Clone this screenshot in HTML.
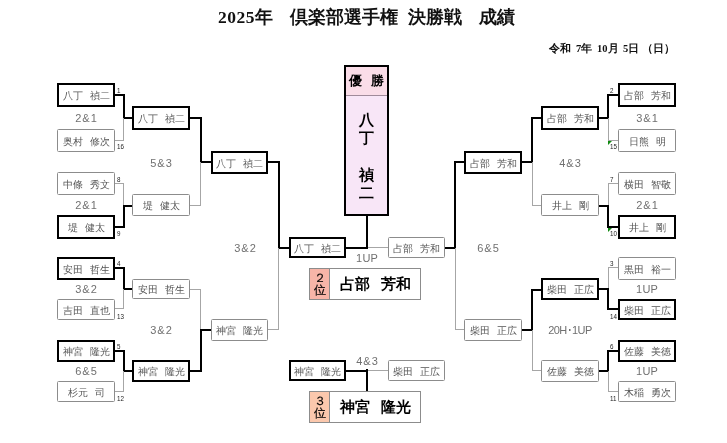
<!DOCTYPE html>
<html><head><meta charset="utf-8"><style>
html,body{margin:0;padding:0;background:#fff;width:727px;height:443px;overflow:hidden}
body{position:relative;font-family:"Liberation Sans", sans-serif}
.wrap{position:absolute;left:0;top:0;width:727px;height:443px;filter:blur(0.4px)}
.b{position:absolute;background:#fff;text-align:center;color:#555;white-space:nowrap;overflow:hidden}
.l{position:absolute}
.sp{display:inline-block;width:7px}
.t{position:absolute;text-align:center;white-space:nowrap}
.n{position:absolute;line-height:8px;color:#222;white-space:nowrap;transform:scaleX(0.78);transform-origin:0 0}
.title span{position:absolute;top:0}
.title{position:absolute;left:0;top:5.5px;width:727px;height:22px;font-family:"Liberation Serif", serif;font-weight:bold;font-size:17.5px;line-height:22px;color:#111;white-space:nowrap}
.date span{position:absolute;top:0}
.date{position:absolute;left:0;top:43px;font-family:"Liberation Serif", serif;font-weight:bold;font-size:10.5px;line-height:12px;color:#111;white-space:nowrap}
.win{position:absolute;left:344px;top:65px;width:41px;height:147px;border:2px solid #000;background:#f8e6f7}
.winh{position:absolute;left:0;top:0;width:41px;height:28px;background:#fadde8;border-bottom:1px solid #a08a9a;text-align:center;font-weight:bold;font-size:13px;line-height:28px;color:#000}
.winb{position:absolute;left:0;top:44px;width:41px;text-align:center;font-size:15px;line-height:18.2px;color:#000;font-weight:bold}
.pl{position:absolute;left:309px;width:110px;height:30px;border:1px solid #8c8c8c;background:#fff}
.pll{position:absolute;left:0;top:0;width:20px;height:30px;border-right:1px solid #8c8c8c;font-size:11.5px;line-height:12px;text-align:center;padding-top:3px;box-sizing:border-box;color:#000;font-weight:normal;-webkit-text-stroke:0.2px #000}
.pln{position:absolute;left:20px;top:0;width:90px;height:30px;line-height:31px;text-align:center;font-weight:bold;font-size:14.5px;color:#000}
</style></head><body><div class="wrap">
<div class="title"><span style="left:218px;letter-spacing:0.5px">2025年</span><span style="left:290px">倶楽部選手権</span><span style="left:408px">決勝戦</span><span style="left:479px">成績</span></div>
<div class="date"><span style="left:549px">令和</span><span style="left:576px">7年</span><span style="left:597px">10月</span><span style="left:623px">5日</span><span style="left:642px">（日）</span></div>
<div class="l" style="left:115px;top:94px;width:10px;height:2px;background:#000"></div>
<div class="l" style="left:115px;top:140px;width:9px;height:1px;background:#a6a6a6"></div>
<div class="l" style="left:123px;top:94px;width:2px;height:25px;background:#000"></div>
<div class="l" style="left:123px;top:118px;width:1px;height:23px;background:#a6a6a6"></div>
<div class="l" style="left:124px;top:117px;width:8px;height:2px;background:#000"></div>
<div class="l" style="left:115px;top:183px;width:9px;height:1px;background:#a6a6a6"></div>
<div class="l" style="left:115px;top:226px;width:10px;height:2px;background:#000"></div>
<div class="l" style="left:123px;top:184px;width:1px;height:22px;background:#a6a6a6"></div>
<div class="l" style="left:123px;top:205px;width:2px;height:23px;background:#000"></div>
<div class="l" style="left:124px;top:205px;width:8px;height:2px;background:#000"></div>
<div class="l" style="left:115px;top:267px;width:10px;height:2px;background:#000"></div>
<div class="l" style="left:115px;top:308px;width:9px;height:1px;background:#a6a6a6"></div>
<div class="l" style="left:123px;top:267px;width:2px;height:23px;background:#000"></div>
<div class="l" style="left:123px;top:289px;width:1px;height:20px;background:#a6a6a6"></div>
<div class="l" style="left:124px;top:288px;width:8px;height:2px;background:#000"></div>
<div class="l" style="left:115px;top:350px;width:10px;height:2px;background:#000"></div>
<div class="l" style="left:115px;top:391px;width:9px;height:1px;background:#a6a6a6"></div>
<div class="l" style="left:123px;top:350px;width:2px;height:22px;background:#000"></div>
<div class="l" style="left:123px;top:371px;width:1px;height:21px;background:#a6a6a6"></div>
<div class="l" style="left:124px;top:370px;width:8px;height:2px;background:#000"></div>
<div class="l" style="left:190px;top:117px;width:12px;height:2px;background:#000"></div>
<div class="l" style="left:190px;top:205px;width:11px;height:1px;background:#a6a6a6"></div>
<div class="l" style="left:200px;top:117px;width:2px;height:46px;background:#000"></div>
<div class="l" style="left:200px;top:162px;width:1px;height:44px;background:#a6a6a6"></div>
<div class="l" style="left:201px;top:161px;width:10px;height:2px;background:#000"></div>
<div class="l" style="left:190px;top:289px;width:11px;height:1px;background:#a6a6a6"></div>
<div class="l" style="left:190px;top:370px;width:12px;height:2px;background:#000"></div>
<div class="l" style="left:200px;top:290px;width:1px;height:40px;background:#a6a6a6"></div>
<div class="l" style="left:200px;top:329px;width:2px;height:43px;background:#000"></div>
<div class="l" style="left:201px;top:329px;width:10px;height:2px;background:#000"></div>
<div class="l" style="left:268px;top:161px;width:12px;height:2px;background:#000"></div>
<div class="l" style="left:268px;top:329px;width:11px;height:1px;background:#a6a6a6"></div>
<div class="l" style="left:278px;top:161px;width:2px;height:88px;background:#000"></div>
<div class="l" style="left:278px;top:248px;width:1px;height:82px;background:#a6a6a6"></div>
<div class="l" style="left:279px;top:247px;width:10px;height:2px;background:#000"></div>
<div class="l" style="left:608px;top:94px;width:10px;height:2px;background:#000"></div>
<div class="l" style="left:608px;top:140px;width:10px;height:1px;background:#a6a6a6"></div>
<div class="l" style="left:607px;top:94px;width:2px;height:25px;background:#000"></div>
<div class="l" style="left:608px;top:118px;width:1px;height:23px;background:#a6a6a6"></div>
<div class="l" style="left:599px;top:117px;width:9px;height:2px;background:#000"></div>
<div class="l" style="left:608px;top:183px;width:10px;height:1px;background:#a6a6a6"></div>
<div class="l" style="left:608px;top:226px;width:10px;height:2px;background:#000"></div>
<div class="l" style="left:608px;top:184px;width:1px;height:22px;background:#a6a6a6"></div>
<div class="l" style="left:607px;top:205px;width:2px;height:23px;background:#000"></div>
<div class="l" style="left:599px;top:205px;width:9px;height:2px;background:#000"></div>
<div class="l" style="left:608px;top:267px;width:10px;height:1px;background:#a6a6a6"></div>
<div class="l" style="left:608px;top:308px;width:10px;height:2px;background:#000"></div>
<div class="l" style="left:608px;top:268px;width:1px;height:21px;background:#a6a6a6"></div>
<div class="l" style="left:607px;top:288px;width:2px;height:22px;background:#000"></div>
<div class="l" style="left:599px;top:288px;width:9px;height:2px;background:#000"></div>
<div class="l" style="left:608px;top:350px;width:10px;height:2px;background:#000"></div>
<div class="l" style="left:608px;top:391px;width:10px;height:1px;background:#a6a6a6"></div>
<div class="l" style="left:607px;top:350px;width:2px;height:22px;background:#000"></div>
<div class="l" style="left:608px;top:371px;width:1px;height:21px;background:#a6a6a6"></div>
<div class="l" style="left:599px;top:370px;width:9px;height:2px;background:#000"></div>
<div class="l" style="left:532px;top:117px;width:9px;height:2px;background:#000"></div>
<div class="l" style="left:532px;top:205px;width:9px;height:1px;background:#a6a6a6"></div>
<div class="l" style="left:531px;top:117px;width:2px;height:46px;background:#000"></div>
<div class="l" style="left:532px;top:162px;width:1px;height:44px;background:#a6a6a6"></div>
<div class="l" style="left:522px;top:161px;width:10px;height:2px;background:#000"></div>
<div class="l" style="left:532px;top:289px;width:9px;height:2px;background:#000"></div>
<div class="l" style="left:532px;top:370px;width:9px;height:1px;background:#a6a6a6"></div>
<div class="l" style="left:531px;top:289px;width:2px;height:42px;background:#000"></div>
<div class="l" style="left:532px;top:330px;width:1px;height:41px;background:#a6a6a6"></div>
<div class="l" style="left:522px;top:329px;width:10px;height:2px;background:#000"></div>
<div class="l" style="left:455px;top:161px;width:9px;height:2px;background:#000"></div>
<div class="l" style="left:455px;top:329px;width:9px;height:1px;background:#a6a6a6"></div>
<div class="l" style="left:454px;top:161px;width:2px;height:88px;background:#000"></div>
<div class="l" style="left:455px;top:248px;width:1px;height:82px;background:#a6a6a6"></div>
<div class="l" style="left:445px;top:247px;width:10px;height:2px;background:#000"></div>
<div class="l" style="left:367px;top:247px;width:21px;height:1px;background:#a6a6a6"></div>
<div class="l" style="left:346px;top:247px;width:21px;height:2px;background:#000"></div>
<div class="l" style="left:366px;top:215px;width:2px;height:34px;background:#000"></div>
<div class="l" style="left:367px;top:370px;width:21px;height:1px;background:#a6a6a6"></div>
<div class="l" style="left:346px;top:370px;width:21px;height:2px;background:#000"></div>
<div class="l" style="left:366px;top:369px;width:2px;height:23px;background:#000"></div>
<div class="b" style="left:57px;top:83px;width:54px;height:20px;border:2px solid #000;border-radius:0px;line-height:22px;font-size:10.2px">八丁<i class="sp"></i>禎二</div>
<div class="b" style="left:57px;top:129px;width:56px;height:21px;border:1px solid #8c8c8c;border-radius:1.5px;line-height:23px;font-size:10.2px">奥村<i class="sp"></i>修次</div>
<div class="b" style="left:57px;top:172px;width:56px;height:21px;border:1px solid #8c8c8c;border-radius:1.5px;line-height:23px;font-size:10.2px">中條<i class="sp"></i>秀文</div>
<div class="b" style="left:57px;top:215px;width:54px;height:20px;border:2px solid #000;border-radius:0px;line-height:22px;font-size:10.2px">堤<i class="sp"></i>健太</div>
<div class="b" style="left:57px;top:257px;width:54px;height:19px;border:2px solid #000;border-radius:0px;line-height:21px;font-size:10.2px">安田<i class="sp"></i>哲生</div>
<div class="b" style="left:57px;top:299px;width:56px;height:19px;border:1px solid #8c8c8c;border-radius:1.5px;line-height:21px;font-size:10.2px">吉田<i class="sp"></i>直也</div>
<div class="b" style="left:57px;top:340px;width:54px;height:18px;border:2px solid #000;border-radius:0px;line-height:20px;font-size:10.2px">神宮<i class="sp"></i>隆光</div>
<div class="b" style="left:57px;top:381px;width:56px;height:19px;border:1px solid #8c8c8c;border-radius:1.5px;line-height:21px;font-size:10.2px">杉元<i class="sp"></i>司</div>
<div class="b" style="left:132px;top:106px;width:54px;height:20px;border:2px solid #000;border-radius:0px;line-height:22px;font-size:10.2px">八丁<i class="sp"></i>禎二</div>
<div class="b" style="left:132px;top:194px;width:56px;height:20px;border:1px solid #8c8c8c;border-radius:1.5px;line-height:22px;font-size:10.2px">堤<i class="sp"></i>健太</div>
<div class="b" style="left:132px;top:279px;width:56px;height:18px;border:1px solid #8c8c8c;border-radius:1.5px;line-height:20px;font-size:10.2px">安田<i class="sp"></i>哲生</div>
<div class="b" style="left:132px;top:360px;width:54px;height:18px;border:2px solid #000;border-radius:0px;line-height:20px;font-size:10.2px">神宮<i class="sp"></i>隆光</div>
<div class="b" style="left:211px;top:151px;width:53px;height:19px;border:2px solid #000;border-radius:0px;line-height:21px;font-size:10.2px">八丁<i class="sp"></i>禎二</div>
<div class="b" style="left:211px;top:319px;width:55px;height:20px;border:1px solid #8c8c8c;border-radius:1.5px;line-height:22px;font-size:10.2px">神宮<i class="sp"></i>隆光</div>
<div class="b" style="left:289px;top:237px;width:53px;height:17px;border:2px solid #000;border-radius:0px;line-height:19px;font-size:10.2px">八丁<i class="sp"></i>禎二</div>
<div class="b" style="left:618px;top:83px;width:54px;height:20px;border:2px solid #000;border-radius:0px;line-height:22px;font-size:10.2px">占部<i class="sp"></i>芳和</div>
<div class="b" style="left:618px;top:129px;width:56px;height:21px;border:1px solid #8c8c8c;border-radius:1.5px;line-height:23px;font-size:10.2px">日熊<i class="sp"></i>明</div>
<div class="b" style="left:618px;top:172px;width:56px;height:21px;border:1px solid #8c8c8c;border-radius:1.5px;line-height:23px;font-size:10.2px">横田<i class="sp"></i>智敬</div>
<div class="b" style="left:618px;top:215px;width:54px;height:20px;border:2px solid #000;border-radius:0px;line-height:22px;font-size:10.2px">井上<i class="sp"></i>剛</div>
<div class="b" style="left:618px;top:257px;width:56px;height:21px;border:1px solid #8c8c8c;border-radius:1.5px;line-height:23px;font-size:10.2px">黒田<i class="sp"></i>裕一</div>
<div class="b" style="left:618px;top:299px;width:54px;height:17px;border:2px solid #000;border-radius:0px;line-height:19px;font-size:10.2px">柴田<i class="sp"></i>正広</div>
<div class="b" style="left:618px;top:340px;width:54px;height:18px;border:2px solid #000;border-radius:0px;line-height:20px;font-size:10.2px">佐藤<i class="sp"></i>美徳</div>
<div class="b" style="left:618px;top:381px;width:56px;height:19px;border:1px solid #8c8c8c;border-radius:1.5px;line-height:21px;font-size:10.2px">木稲<i class="sp"></i>勇次</div>
<div class="b" style="left:541px;top:106px;width:54px;height:20px;border:2px solid #000;border-radius:0px;line-height:22px;font-size:10.2px">占部<i class="sp"></i>芳和</div>
<div class="b" style="left:541px;top:194px;width:56px;height:20px;border:1px solid #8c8c8c;border-radius:1.5px;line-height:22px;font-size:10.2px">井上<i class="sp"></i>剛</div>
<div class="b" style="left:541px;top:278px;width:54px;height:18px;border:2px solid #000;border-radius:0px;line-height:20px;font-size:10.2px">柴田<i class="sp"></i>正広</div>
<div class="b" style="left:541px;top:360px;width:56px;height:20px;border:1px solid #8c8c8c;border-radius:1.5px;line-height:22px;font-size:10.2px">佐藤<i class="sp"></i>美徳</div>
<div class="b" style="left:464px;top:151px;width:54px;height:19px;border:2px solid #000;border-radius:0px;line-height:21px;font-size:10.2px">占部<i class="sp"></i>芳和</div>
<div class="b" style="left:464px;top:319px;width:56px;height:20px;border:1px solid #8c8c8c;border-radius:1.5px;line-height:22px;font-size:10.2px">柴田<i class="sp"></i>正広</div>
<div class="b" style="left:388px;top:237px;width:55px;height:19px;border:1px solid #8c8c8c;border-radius:1.5px;line-height:21px;font-size:10.2px">占部<i class="sp"></i>芳和</div>
<div class="b" style="left:289px;top:360px;width:53px;height:17px;border:2px solid #000;border-radius:0px;line-height:19px;font-size:10.2px">神宮<i class="sp"></i>隆光</div>
<div class="b" style="left:388px;top:360px;width:55px;height:19px;border:1px solid #8c8c8c;border-radius:1.5px;line-height:21px;font-size:10.2px">柴田<i class="sp"></i>正広</div>
<div class="t" style="left:26px;top:108px;width:120px;height:20px;line-height:20px;font-size:11px;color:#707070;letter-spacing:1px;text-indent:1px">2&amp;1</div>
<div class="t" style="left:26px;top:195px;width:120px;height:20px;line-height:20px;font-size:11px;color:#707070;letter-spacing:1px;text-indent:1px">2&amp;1</div>
<div class="t" style="left:26px;top:279px;width:120px;height:20px;line-height:20px;font-size:11px;color:#707070;letter-spacing:1px;text-indent:1px">3&amp;2</div>
<div class="t" style="left:26px;top:361px;width:120px;height:20px;line-height:20px;font-size:11px;color:#707070;letter-spacing:1px;text-indent:1px">6&amp;5</div>
<div class="t" style="left:587px;top:108px;width:120px;height:20px;line-height:20px;font-size:11px;color:#707070;letter-spacing:1px;text-indent:1px">3&amp;1</div>
<div class="t" style="left:587px;top:195px;width:120px;height:20px;line-height:20px;font-size:11px;color:#707070;letter-spacing:1px;text-indent:1px">2&amp;1</div>
<div class="t" style="left:587px;top:279px;width:120px;height:20px;line-height:20px;font-size:11px;color:#707070;letter-spacing:0.2px;text-indent:0.2px">1UP</div>
<div class="t" style="left:587px;top:361px;width:120px;height:20px;line-height:20px;font-size:11px;color:#707070;letter-spacing:0.2px;text-indent:0.2px">1UP</div>
<div class="t" style="left:101px;top:152.5px;width:120px;height:20px;line-height:20px;font-size:11px;color:#707070;letter-spacing:1px;text-indent:1px">5&amp;3</div>
<div class="t" style="left:101px;top:320px;width:120px;height:20px;line-height:20px;font-size:11px;color:#707070;letter-spacing:1px;text-indent:1px">3&amp;2</div>
<div class="t" style="left:510px;top:152.5px;width:120px;height:20px;line-height:20px;font-size:11px;color:#707070;letter-spacing:1px;text-indent:1px">4&amp;3</div>
<div class="t" style="left:510px;top:320px;width:120px;height:20px;line-height:20px;font-size:11px;color:#707070;letter-spacing:-0.6px">20H･1UP</div>
<div class="t" style="left:185px;top:238px;width:120px;height:20px;line-height:20px;font-size:11px;color:#707070;letter-spacing:1px;text-indent:1px">3&amp;2</div>
<div class="t" style="left:428px;top:238px;width:120px;height:20px;line-height:20px;font-size:11px;color:#707070;letter-spacing:1px;text-indent:1px">6&amp;5</div>
<div class="t" style="left:307px;top:248px;width:120px;height:20px;line-height:20px;font-size:11px;color:#707070;letter-spacing:0.2px;text-indent:0.2px">1UP</div>
<div class="t" style="left:307px;top:351px;width:120px;height:20px;line-height:20px;font-size:11px;color:#707070;letter-spacing:1px;text-indent:1px">4&amp;3</div>
<div class="n" style="left:117px;top:87px;font-size:8px">1</div>
<div class="n" style="left:117px;top:176px;font-size:8px">8</div>
<div class="n" style="left:117px;top:260px;font-size:8px">4</div>
<div class="n" style="left:117px;top:343px;font-size:8px">5</div>
<div class="n" style="left:117px;top:143px;font-size:8px">16</div>
<div class="n" style="left:117px;top:230px;font-size:8px">9</div>
<div class="n" style="left:117px;top:313px;font-size:8px">13</div>
<div class="n" style="left:117px;top:395px;font-size:8px">12</div>
<div class="n" style="left:610px;top:87px;font-size:8px">2</div>
<div class="n" style="left:610px;top:176px;font-size:8px">7</div>
<div class="n" style="left:610px;top:260px;font-size:8px">3</div>
<div class="n" style="left:610px;top:343px;font-size:8px">6</div>
<div class="n" style="left:610px;top:143px;font-size:8px">15</div>
<div class="n" style="left:610px;top:230px;font-size:8px">10</div>
<div class="n" style="left:610px;top:313px;font-size:8px">14</div>
<div class="n" style="left:610px;top:395px;font-size:8px">11</div>
<svg style="position:absolute;left:0;top:0" width="727" height="443"><polygon points="608,141 612,141 608,145" fill="#108a10"/><polygon points="608,228 612,228 608,232" fill="#108a10"/></svg>
<div class="win"><div class="winh">優<i class="sp" style="width:9px"></i>勝</div><div class="winb">八<br>丁<br><br>禎<br>二</div></div>
<div class="pl" style="top:268px"><div class="pll" style="background:#f7b5a8">２<br>位</div><div class="pln">占部<i class="sp" style="width:11px"></i>芳和</div></div>
<div class="pl" style="top:391px"><div class="pll" style="background:#fbc8ad">３<br>位</div><div class="pln">神宮<i class="sp" style="width:11px"></i>隆光</div></div>
</div></body></html>
